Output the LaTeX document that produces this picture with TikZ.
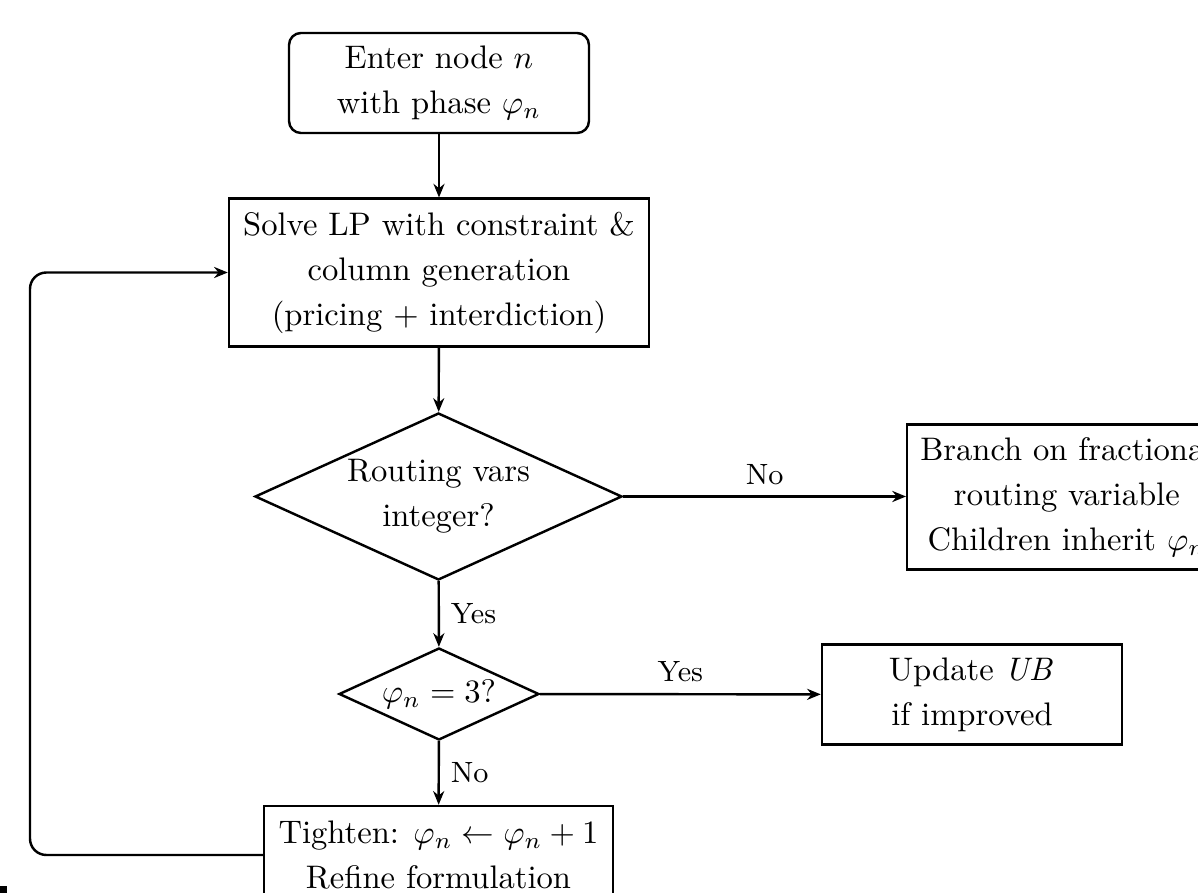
\documentclass[tikz,border=0pt]{standalone}
\usetikzlibrary{shapes.geometric,arrows.meta}
% one drawing unit
\newcommand\pxu{0.3067pt}
\begin{document}
\begin{tikzpicture}[x=\pxu, y=-\pxu,
  txt/.style={font=\fontsize{10pt}{13.8pt}\selectfont, align=center},
  box/.style={txt, draw, line width=0.75pt, inner sep=4pt},
  decision/.style={txt, draw, line width=0.75pt, diamond, inner sep=0pt},
  arr/.style={draw, line width=0.75pt, -{Stealth[length=4.2pt,width=3.4pt]}},
  lbl/.style={font=\small}]
\useasboundingbox (0,0) rectangle (1198,893);
\clip (0,0) rectangle (1198,893);

\node[box, rounded corners=3.7pt, minimum width=300*\pxu, minimum height=98*\pxu]
  (enter) at (439,83) {Enter node $n$\\with phase $\varphi_n$};
\node[box, minimum width=420*\pxu, minimum height=147*\pxu]
  (solve) at (439,272.5) {Solve LP with constraint \&\\column generation\\(pricing + interdiction)};
\node[decision, minimum width=367*\pxu, minimum height=167*\pxu, aspect=2.2]
  (intq) at (438.5,496.5) {Routing vars\\integer?};
\node[box, anchor=west, minimum height=144*\pxu]
  (branch) at (906,497) {Branch on fractional\\routing variable\\Children inherit $\varphi_n$};
\node[decision, minimum width=200*\pxu, minimum height=92*\pxu, aspect=2.2]
  (phase) at (439,694) {$\varphi_n = 3?$};
\node[box, minimum width=300*\pxu, minimum height=99*\pxu]
  (ub) at (972,694.5) {Update $\mathit{UB}$\\if improved};
\node[box, minimum width=349*\pxu, minimum height=98*\pxu]
  (tight) at (438.5,855) {Tighten: $\varphi_n \leftarrow \varphi_n + 1$\\Refine formulation};
\coordinate (loop) at (30,272);

\draw[arr] (enter) -- (solve);
\draw[arr] (solve) -- (intq);
\draw[arr] (intq.east) -- node[lbl, above] {No} (intq.east -| branch.west);
\draw[arr] (intq) -- node[lbl, right] {Yes} (phase);
\draw[arr] (phase) -- node[lbl, above] {Yes} (ub);
\draw[arr] (phase) -- node[lbl, right] {No} (tight);
\draw[arr, rounded corners=5pt] (tight.west) -- (tight.west -| loop) |- (solve.west);

\fill (0,886) rectangle (7,893);
\end{tikzpicture}
\end{document}
